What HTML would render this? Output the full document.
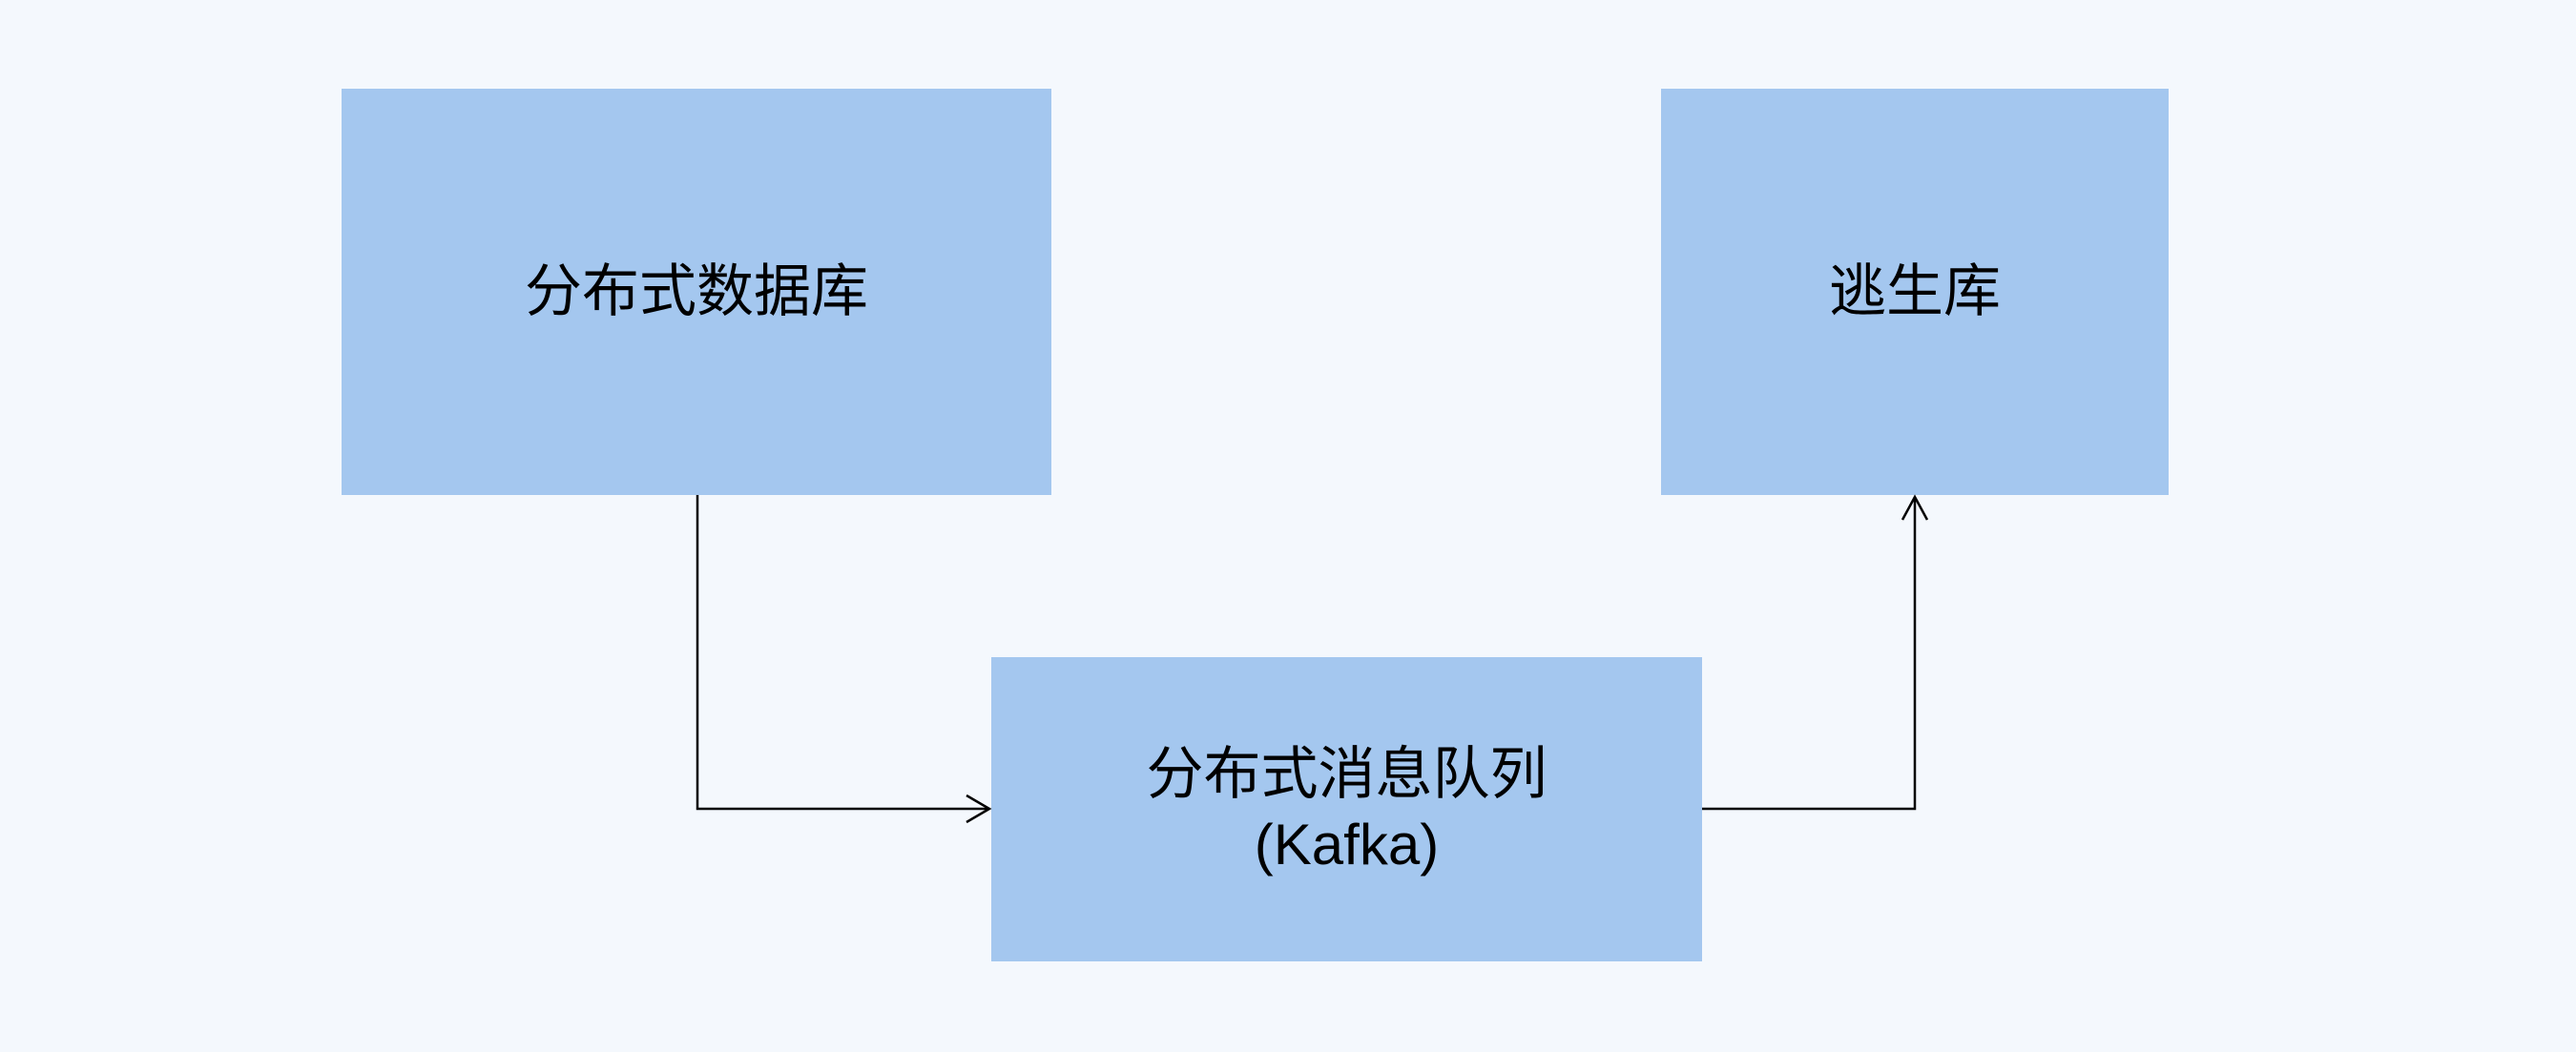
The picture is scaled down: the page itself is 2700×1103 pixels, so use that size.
<!DOCTYPE html>
<html><head><meta charset="utf-8"><style>
body{margin:0;width:2700px;height:1103px;background:#f4f8fd;position:relative;overflow:hidden;font-family:"Liberation Sans","Noto Sans CJK SC",sans-serif;}
.b{position:absolute;background:#a4c7ef;display:flex;align-items:center;justify-content:center;text-align:center;font-size:60px;line-height:74px;color:#000;}
</style></head><body>
<div class="b" style="left:358px;top:93px;width:744px;height:426px;">分布式数据库</div>
<div class="b" style="left:1741px;top:93px;width:532px;height:426px;">逃生库</div>
<div class="b" style="left:1039px;top:689px;width:745px;height:319px;">分布式消息队列<br>(Kafka)</div>
<svg width="2700" height="1103" style="position:absolute;left:0;top:0">
<polyline points="731,519 731,848 1037,848" fill="none" stroke="#000" stroke-width="2.5"/>
<polyline points="1013,834 1037,848 1013,862" fill="none" stroke="#000" stroke-width="2.5"/>
<polyline points="1784,848 2007,848 2007,521" fill="none" stroke="#000" stroke-width="2.5"/>
<polyline points="1994,545 2007,521 2020,545" fill="none" stroke="#000" stroke-width="2.5"/>
</svg>
</body></html>
